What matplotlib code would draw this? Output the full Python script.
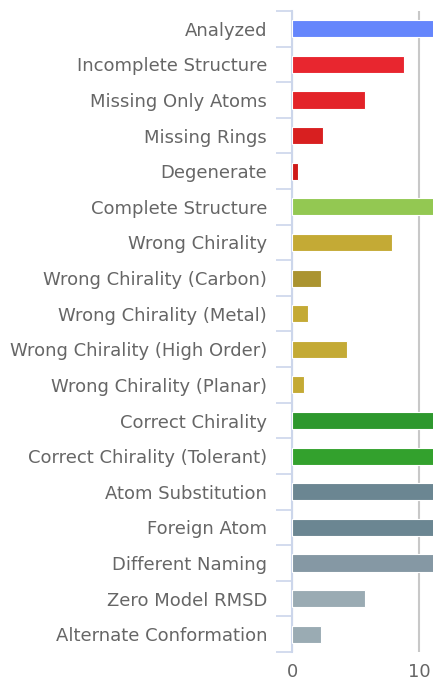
import numpy as np
import matplotlib.pyplot as plt

labels = ["Analyzed", "Incomplete Structure", "Missing Only Atoms", "Missing Rings",
          "Degenerate", "Complete Structure", "Wrong Chirality",
          "Wrong Chirality (Carbon)", "Wrong Chirality (Metal)",
          "Wrong Chirality (High Order)", "Wrong Chirality (Planar)",
          "Correct Chirality", "Correct Chirality (Tolerant)", "Atom Substitution",
          "Foreign Atom", "Different Naming", "Zero Model RMSD",
          "Alternate Conformation"]
values = [12, 8.85, 5.77, 2.44, 0.45, 12, 7.9, 2.31, 1.26, 4.3, 0.97,
          12, 12, 12, 12, 12, 5.77, 2.31]
colors = ["#6586fc", "#e8262f", "#e32329", "#d81f20", "#cf1a1a", "#93c852",
          "#c4aa35", "#ab9430", "#c4aa35", "#c4aa35", "#c4aa35",
          "#2e982e", "#33a12d", "#6b8692", "#6b8692", "#8598a4", "#9aabb3",
          "#9aabb3"]

fig = plt.figure(figsize=(4.33, 6.85), dpi=100)
ax = fig.add_axes([292/433, 1 - 652/685, 1 - 292/433, (652 - 11)/685])

y = np.arange(len(labels))
ax.barh(y, values, height=0.48, color=colors, edgecolor="white", linewidth=0.8, zorder=3)

ax.set_xlim(0, 11.1)
ax.set_ylim(len(labels) - 0.5, -0.5)
ax.set_xticks([0, 10])
ax.set_xticklabels(["0", "10"])
ax.xaxis.grid(True, color="#c8c8c8", linewidth=1.5, zorder=0)
ax.tick_params(axis="x", length=0, pad=8, labelsize=13, labelcolor="#666666")

ax.set_yticks(y)
ax.set_yticklabels(labels)
ax.tick_params(axis="y", which="major", length=0, pad=18, labelsize=13, labelcolor="#666666")
ax.set_yticks(np.arange(len(labels) + 1) - 0.5, minor=True)
ax.tick_params(axis="y", which="minor", length=11.5, width=1.2, color="#ccd6eb")

for s in ["top", "right", "bottom"]:
    ax.spines[s].set_visible(False)
ax.spines["left"].set_color("#ccd6eb")
ax.spines["left"].set_linewidth(1.5)

plt.savefig("out.png", dpi=100)
